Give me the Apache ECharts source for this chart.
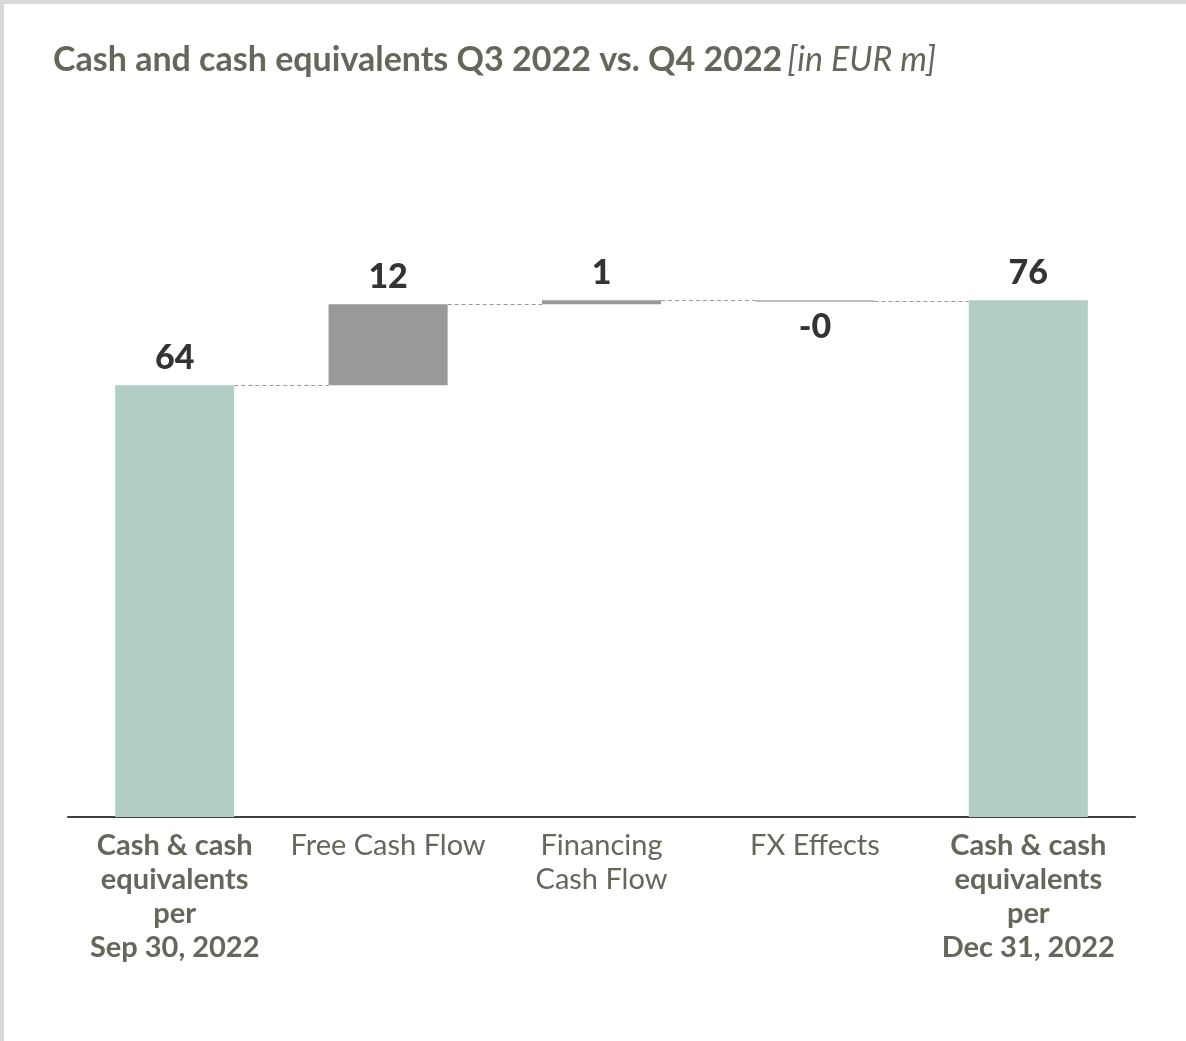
<!DOCTYPE html>
<html>
<head>
<meta charset="utf-8">
<script src="https://cdn.jsdelivr.net/npm/echarts@6/dist/echarts.min.js"></script>
<style>
  html, body { margin: 0; padding: 0; background: #fff; }
  #wrap { position: absolute; left: 0; top: 0; width: 1186px; height: 1041px; background: #d9d9d9; }
  #chart { position: absolute; left: 4px; top: 4px; width: 1182px; height: 1037px; background: #fff; }
</style>
</head>
<body>
<div id="wrap"><div id="chart"></div></div>
<script>
// ---- data ----
const categories = [
  'Cash & cash\nequivalents\nper\nSep 30, 2022',
  'Free Cash Flow',
  'Financing\nCash Flow',
  'FX Effects',
  'Cash & cash\nequivalents\nper\nDec 31, 2022'
];
const values = [63.6, 11.9, 0.6, -0.04, 76.1];
const isTotal = [true, false, false, false, true];
const titleMain = 'Cash and cash equivalents Q3 2022 vs. Q4 2022';
const titleUnit = '[in EUR m]';

// ---- derived waterfall levels ----
const lows = [], highs = [], ends = [];
let running = 0;
values.forEach((v, i) => {
  if (isTotal[i]) { lows.push(0); highs.push(v); running = v; }
  else { const s = running; running = s + v; lows.push(Math.min(s, running)); highs.push(Math.max(s, running)); }
  ends.push(running);
});
const fmt = v => (v < 0 ? '-' : '') + Math.abs(v).toFixed(0);

const seriesData = values.map((v, i) => [i, lows[i], highs[i], v, isTotal[i] ? 1 : 0, ends[i]]);

const TEAL = '#b2cdc6', GREY = '#999999', TXT = '#66665a';

const chart = echarts.init(document.getElementById('chart'), null, { renderer: 'canvas' });
chart.setOption({
  animation: false,
  title: {
    text: '{b|' + titleMain + '} {i|' + titleUnit + '}',
    left: 44, top: 34,
    textStyle: {
      rich: {
        b: { fontFamily: 'Lato', fontWeight: 'bold', fontSize: 34, color: TXT },
        i: { fontFamily: 'Lato', fontStyle: 'italic', fontWeight: 'normal', fontSize: 34, color: TXT }
      }
    }
  },
  grid: { left: 64, right: 51, top: 134, bottom: 224, containLabel: false },
  xAxis: {
    type: 'category',
    data: categories,
    axisLine: { show: true, lineStyle: { color: '#404040', width: 2 } },
    axisTick: { show: false },
    axisLabel: {
      interval: 0, margin: 12,
      formatter: (val, idx) => {
        const st = isTotal[idx] ? 'b' : 'r';
        return val.split('\n').map(l => '{' + st + '|' + l + '}').join('\n');
      },
      rich: {
        b: { fontFamily: 'Lato', fontWeight: 'bold', fontSize: 29, color: TXT, lineHeight: 34 },
        r: { fontFamily: 'Lato', fontWeight: 'normal', fontSize: 29, color: TXT, lineHeight: 34 }
      }
    }
  },
  yAxis: { type: 'value', min: 0, max: 100, show: false, splitLine: { show: false } },
  series: [{
    type: 'custom',
    data: seriesData,
    encode: { x: 0, y: [1, 2] },
    renderItem: (params, api) => {
      const i = api.value(0), lo = api.value(1), hi = api.value(2), v = api.value(3);
      const tot = api.value(4) === 1, end = api.value(5);
      const pLo = api.coord([i, lo]), pHi = api.coord([i, hi]);
      const w = api.size([1, 0])[0] * 0.558;
      const h = Math.max(pLo[1] - pHi[1], 1.5);
      const x = pLo[0] - w / 2;
      const y = pHi[1];
      const children = [{
        type: 'rect',
        shape: { x: x, y: y, width: w, height: h },
        style: { fill: tot ? TEAL : (Math.abs(v) < 0.1 ? '#a6a6a6' : GREY) }
      }];
      const n = values.length;
      if (i < n - 1) {
        const pe = api.coord([i, end]);
        const pn = api.coord([i + 1, end]);
        children.push({
          type: 'line',
          shape: { x1: x + w, y1: Math.round(pe[1]) + 0.5, x2: pn[0] - w / 2, y2: Math.round(pe[1]) + 0.5 },
          style: { stroke: '#999999', lineWidth: 1, lineDash: [4, 3] }
        });
      }
      const neg = v < 0;
      children.push({
        type: 'text',
        style: {
          text: fmt(v),
          x: pLo[0],
          y: neg ? y + h + 25 : y - 27,
          align: 'center', verticalAlign: 'middle',
          fontFamily: 'Lato', fontWeight: 900, fontSize: 34, fill: '#333333'
        }
      });
      return { type: 'group', children: children };
    }
  }]
});
</script>
</body>
</html>
